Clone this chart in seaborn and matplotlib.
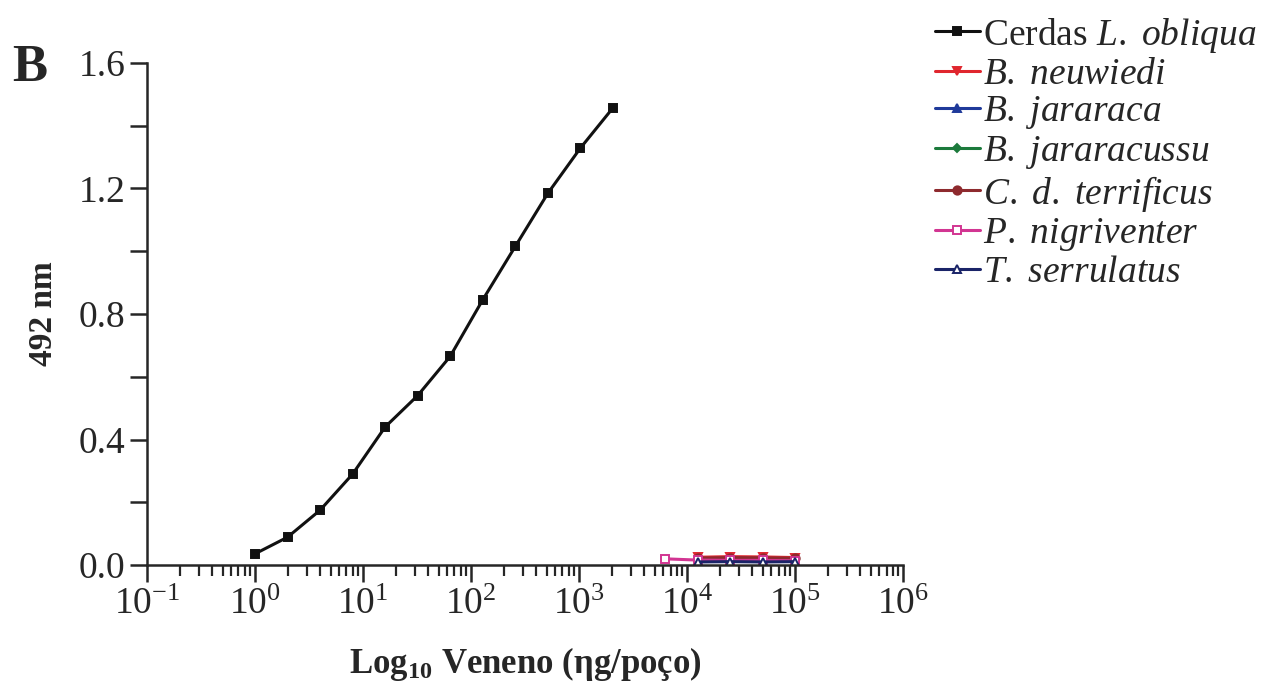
import matplotlib
matplotlib.use("Agg")
import matplotlib.pyplot as plt
import numpy as np
import seaborn as sns
import pandas as pd

# data
cerdas_x = [1, 2, 4, 8, 16, 32, 64, 128, 256, 512, 1024, 2048]
cerdas_y = [0.036, 0.089, 0.175, 0.29, 0.44, 0.54, 0.665, 0.845, 1.015, 1.184, 1.328, 1.456]

venom_x = [12500, 25000, 50000, 100000]
neuwiedi_y = [0.025, 0.027, 0.026, 0.024]
jararaca_y = [0.012, 0.013, 0.012, 0.012]
jararacussu_y = [0.016, 0.017, 0.016, 0.018]
terrificus_y = [0.022, 0.024, 0.023, 0.022]
nigri_x = [6250, 12500, 25000, 50000, 100000]
nigri_y = [0.02, 0.016, 0.015, 0.015, 0.014]
serrulatus_y = [0.01, 0.011, 0.01, 0.011]

labels = [r"Cerdas $\mathit{L.\ obliqua}$", r"$\mathit{B.\ neuwiedi}$", r"$\mathit{B.\ jararaca}$",
          r"$\mathit{B.\ jararacussu}$", r"$\mathit{C.\ d.\ terrificus}$",
          r"$\mathit{P.\ nigriventer}$", r"$\mathit{T.\ serrulatus}$"]

sns.set_style("ticks")
plt.rcParams['font.family'] = ['Liberation Serif', 'DejaVu Serif']
plt.rcParams['mathtext.fontset'] = 'custom'
plt.rcParams['mathtext.rm'] = 'Liberation Serif'
plt.rcParams['mathtext.it'] = 'Liberation Serif:italic'
plt.rcParams['mathtext.bf'] = 'Liberation Serif:bold'

fig = plt.figure(figsize=(12.67, 6.9), dpi=100)
ax = fig.add_axes([0.116, 0.181, 0.597, 0.728])

series = [
    (cerdas_x, cerdas_y, '#111111', 's', None),
    (venom_x, neuwiedi_y, '#e0262e', 'v', None),
    (venom_x, jararaca_y, '#1f3a9a', '^', None),
    (venom_x, jararacussu_y, '#1c7a3c', 'D', None),
    (venom_x, terrificus_y, '#8e2a2e', 'o', None),
    (nigri_x, nigri_y, '#d23592', 's', 'white'),
    (venom_x, serrulatus_y, '#1a2468', '^', 'white'),
]
for (x, y, c, m, mfc), lab in zip(series, labels):
    sns.lineplot(x=x, y=y, ax=ax, color=c, marker=m, markersize=6 if m != 'D' else 4.5,
                 markerfacecolor=mfc if mfc else c, markeredgecolor=c, markeredgewidth=1.4,
                 linewidth=2.2, label=lab, legend=False)

ax.set_xscale('log')
ax.set_xlim(0.1, 1e6)
ax.set_ylim(0, 1.6)
ax.set_yticks([0, 0.4, 0.8, 1.2, 1.6])
ax.set_yticks([0.2, 0.6, 1.0, 1.4], minor=True)
ax.set_yticklabels(['0.0', '0.4', '0.8', '1.2', '1.6'])
ax.set_xticks([10.0**k for k in range(-1, 7)])
ax.set_xticklabels([rf"$10^{{{k}}}$" for k in range(-1, 7)])
ax.tick_params(axis='both', which='major', labelsize=27, width=1.8, length=12, direction='out')
ax.tick_params(axis='x', which='major', pad=4)
ax.tick_params(axis='y', which='minor', width=1.8, length=12)
ax.tick_params(axis='x', which='minor', width=1.6, length=8)
sns.despine(ax=ax)
for s in ['left', 'bottom']:
    ax.spines[s].set_linewidth(1.8)

ax.set_ylabel('492 nm', fontsize=24, fontweight='bold', labelpad=14)
ax.set_xlabel(r"Log$\mathbf{_{10}}$ Veneno (ηg/poço)", fontsize=25, fontweight='bold', labelpad=17)
fig.text(0.01, 0.882, 'B', fontsize=38, fontweight='bold')

handles, labs = ax.get_legend_handles_labels()
fig.legend(handles, labs, loc='upper left', bbox_to_anchor=(0.72, 1.01), frameon=False,
           fontsize=27, handlelength=1.2, handletextpad=0.1, labelspacing=0.07, borderaxespad=0.2)

fig.savefig('out.png', dpi=100)
